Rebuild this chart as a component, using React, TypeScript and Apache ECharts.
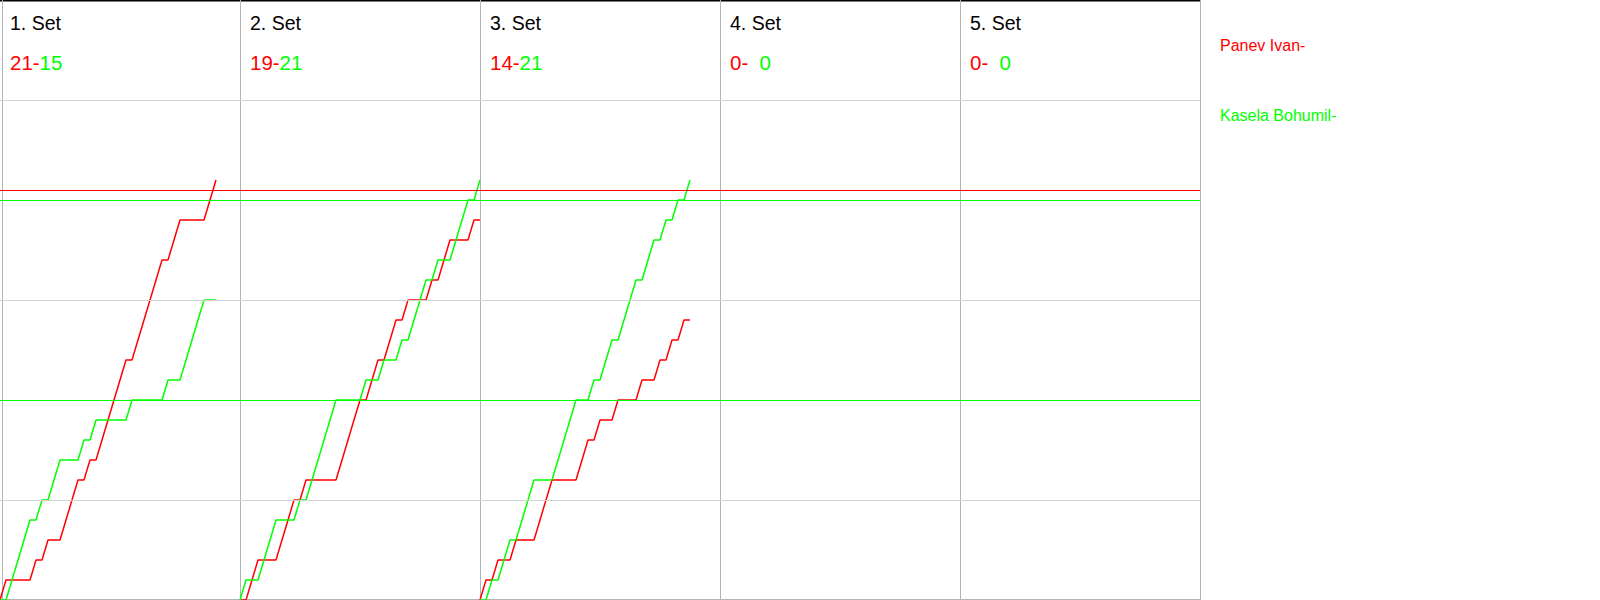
import React, { useEffect, useRef } from "react";
import * as echarts from "echarts";

// Score after each rally (index 0 = start of set)
const set1Red = [0,1,1,1,1,1,2,2,3,3,3,4,5,6,6,7,7,8,9,10,11,12,12,13,14,15,16,17,17,18,19,19,19,19,19,20,21];
const set1Green = [0,0,1,2,3,4,4,5,5,6,7,7,7,7,8,8,9,9,9,9,9,9,10,10,10,10,10,10,11,11,11,12,13,14,15,15,15];
const set2Red = [0,0,1,2,2,2,2,3,4,5,5,6,6,6,6,6,6,7,8,9,10,10,11,12,12,13,14,14,15,15,15,15,16,16,17,18,18,18,18,19,19];
const set2Green = [0,1,1,1,2,3,4,4,4,4,5,5,6,7,8,9,10,10,10,10,10,11,11,11,12,12,12,13,13,14,15,16,16,17,17,17,18,19,20,20,21];
const set3Red = [0,1,1,2,2,2,3,3,3,3,4,5,6,6,6,6,6,7,8,8,9,9,9,10,10,10,10,11,11,11,12,12,13,13,14,14];
const set3Green = [0,0,1,1,2,3,3,4,5,6,6,6,6,7,8,9,10,10,10,11,11,12,13,13,14,15,16,16,17,18,18,19,19,20,20,21];

const redSets = [set1Red, set2Red, set3Red];
const greenSets = [set1Green, set2Green, set3Green];

const setTitles = ["1. Set", "2. Set", "3. Set", "4. Set", "5. Set"];
const redScores = ["21-", "19-", "14-", "0-", "0-"];
const greenScores = ["15", "21", "21", "0", "0"];
const playerRed = "Panev Ivan-";
const playerGreen = "Kasela Bohumil-";

const gridLevels = [5, 15, 25];
const redMarks = [20.5];
const greenMarks = [20, 10];

const RALLIES_PER_SET = 40;
const RED = "#ff0000";
const GREEN = "#00ff00";
const FONT = "Liberation Sans, Arial, sans-serif";

export default function App() {
  const ref = useRef<HTMLDivElement>(null);
  useEffect(() => {
    if (!ref.current) return;
    const chart = echarts.init(ref.current, undefined, { renderer: "svg" });
    const series: any[] = [];
    redSets.forEach((arr, s) => {
      series.push({
        type: "line",
        name: "red" + s,
        data: arr.map((v, i) => [RALLIES_PER_SET * s + i, v]),
        showSymbol: false,
        lineStyle: { color: RED, width: 1.5 },
        itemStyle: { color: RED },
        z: 3,
      });
    });
    greenSets.forEach((arr, s) => {
      series.push({
        type: "line",
        name: "green" + s,
        data: arr.map((v, i) => [RALLIES_PER_SET * s + i, v]),
        showSymbol: false,
        lineStyle: { color: GREEN, width: 1.5 },
        itemStyle: { color: GREEN },
        z: 3,
      });
    });
    series.push({
      type: "line",
      name: "marks",
      data: [],
      silent: true,
      z: 2,
      markLine: {
        silent: true,
        symbol: "none",
        label: { show: false },
        animation: false,
        data: [
          ...gridLevels.map((v) => ({ yAxis: v, lineStyle: { color: "#d3d3d3", width: 1, type: "solid" } })),
          ...redMarks.map((v) => ({ yAxis: v, lineStyle: { color: RED, width: 1.2, type: "solid" } })),
          ...greenMarks.map((v) => ({ yAxis: v, lineStyle: { color: GREEN, width: 1.2, type: "solid" } })),
        ],
      },
    });

    const graphics: any[] = [];
    setTitles.forEach((t, i) => {
      const x0 = i * 240;
      graphics.push({
        type: "text",
        x: x0 + 10,
        y: 23,
        style: { text: t, fill: "#000", font: `19.5px ${FONT}`, verticalAlign: "middle", align: "left" },
      });
      graphics.push({
        type: "text",
        x: x0 + 10,
        y: 62.5,
        style: { text: redScores[i], fill: RED, font: `20.5px ${FONT}`, verticalAlign: "middle", align: "left" },
      });
      graphics.push({
        type: "text",
        x: x0 + 39.5,
        y: 62.5,
        style: { text: greenScores[i], fill: GREEN, font: `20.5px ${FONT}`, verticalAlign: "middle", align: "left" },
      });
    });
    graphics.push({
      type: "text",
      x: 1220,
      y: 45,
      style: { text: playerRed, fill: RED, font: `16px ${FONT}`, verticalAlign: "middle", align: "left" },
    });
    graphics.push({
      type: "text",
      x: 1220,
      y: 115.5,
      style: { text: playerGreen, fill: GREEN, font: `16px ${FONT}`, verticalAlign: "middle", align: "left" },
    });
    // frame lines
    graphics.push({ type: "line", shape: { x1: 0, y1: 0.75, x2: 1200, y2: 0.75 }, style: { stroke: "#000", lineWidth: 1.5 } });
    graphics.push({ type: "line", shape: { x1: 2.5, y1: 0, x2: 2.5, y2: 600 }, style: { stroke: "#b4b4b4", lineWidth: 1 } });
    graphics.push({ type: "line", shape: { x1: 0, y1: 599.5, x2: 1200, y2: 599.5 }, style: { stroke: "#b4b4b4", lineWidth: 1 } });

    chart.setOption({
      animation: false,
      grid: { left: 0, top: 0, width: 1200, height: 600, containLabel: false },
      xAxis: {
        type: "value",
        min: 0,
        max: 200,
        interval: 40,
        axisLine: { show: false },
        axisTick: { show: false },
        axisLabel: { show: false },
        splitLine: { show: true, showMinLine: false, lineStyle: { color: "#b4b4b4", width: 1 } },
      },
      yAxis: {
        type: "value",
        min: 0,
        max: 30,
        axisLine: { show: false },
        axisTick: { show: false },
        axisLabel: { show: false },
        splitLine: { show: false },
      },
      series,
      graphic: graphics,
    });
    return () => chart.dispose();
  }, []);
  return (
    <div
      ref={ref}
      style={{ position: "absolute", left: 0, top: 0, width: 1600, height: 600, background: "#fff" }}
    />
  );
}
